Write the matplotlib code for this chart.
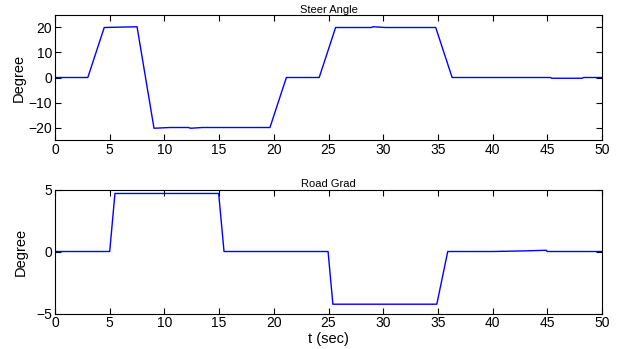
import numpy as np
import matplotlib.pyplot as plt

plt.rcParams['font.family'] = ['Liberation Sans', 'DejaVu Sans']

# steer angle (deg) vs time (s)
t_steer = [0, 3.0, 4.5, 7.5, 9.05, 10.5, 12.2, 12.4, 13.5, 19.65, 21.15, 24.15, 25.65,
           28.9, 29.1, 30.2, 34.8, 36.3, 45.3, 45.4, 48.2, 48.3, 50]
steer = [0, 0, 20, 20.3, -20.3, -20, -20, -20.3, -20, -20, 0, 0, 20,
         20, 20.3, 20, 20, 0, 0, -0.3, -0.3, 0, 0]

# road grade (deg) vs time (s)
t_grad = [0, 5.0, 5.48, 14.96, 15.45, 24.96, 25.4, 34.9, 35.9, 40, 43, 44.9, 45.0, 50]
grad = [0, 0, 4.68, 4.68, 0, 0, -4.25, -4.25, 0, 0, 0.05, 0.1, 0, 0]

fig = plt.figure(figsize=(6.22, 3.49), dpi=100)
ax1 = fig.add_axes([55/622, 1-140/349, 547/622, 125/349])
ax2 = fig.add_axes([55/622, 1-313.5/349, 547/622, 124/349])

ax1.plot(t_steer, steer, color='#0000ff', lw=1.0)
ax1.set_xlim(0, 50)
ax1.set_ylim(-25, 25)
ax1.set_yticks([-20, -10, 0, 10, 20])
ax1.set_title('Steer Angle', fontsize=8, pad=1.5)
ax1.set_ylabel('Degree', fontsize=10.5, labelpad=2)

ax2.plot(t_grad, grad, color='#0000ff', lw=1.0)
ax2.set_xlim(0, 50)
ax2.set_ylim(-5, 5)
ax2.set_yticks([-5, 0, 5])
ax2.set_title('Road Grad', fontsize=8, pad=1.5)
ax2.set_ylabel('Degree', fontsize=10.5, labelpad=6)
ax2.set_xlabel('t (sec)', fontsize=10.5, labelpad=1)

for ax in (ax1, ax2):
    ax.set_xticks(range(0, 51, 5))
    ax.tick_params(direction='in', top=True, right=True, labelsize=10, length=4, pad=2)
    for s in ax.spines.values():
        s.set_linewidth(0.8)

fig.savefig('out.png', dpi=100)
